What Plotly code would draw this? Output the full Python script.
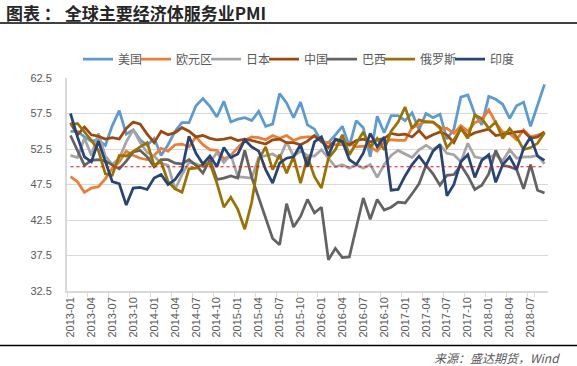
import plotly.graph_objects as go

months = [f"{y}-{m:02d}" for y in range(2013, 2019) for m in range(1, 13)][:69]

us = [55.0, 55.0, 54.2, 53.6, 53.8, 53.0, 55.8, 57.9, 54.6, 55.2, 53.8, 53.0,
      54.0, 51.6, 53.1, 55.0, 56.2, 56.2, 58.6, 59.6, 58.5, 57.0, 59.2, 56.3,
      56.7, 56.9, 56.5, 57.8, 55.7, 56.0, 60.3, 59.0, 56.9, 59.1, 55.9, 55.3,
      53.5, 53.4, 54.5, 55.7, 52.9, 56.5, 55.5, 51.4, 57.1, 54.8, 57.2, 57.2,
      56.5, 57.6, 55.2, 57.5, 56.9, 57.4, 53.9, 55.3, 59.8, 60.1, 57.4, 55.9,
      59.9, 59.5, 58.8, 56.8, 58.6, 59.1, 55.7, 58.5, 61.6]
euro = [48.6, 47.9, 46.4, 47.0, 47.2, 48.3, 49.8, 50.7, 52.2, 51.6, 51.2, 51.0,
        51.6, 52.6, 52.2, 53.1, 53.2, 52.8, 54.2, 53.1, 52.4, 52.3, 51.1, 51.6,
        52.7, 53.7, 54.2, 54.1, 53.8, 54.4, 54.0, 54.4, 53.7, 54.1, 54.2, 54.2,
        53.6, 53.3, 53.1, 53.1, 53.3, 52.8, 52.9, 52.8, 52.2, 53.5, 53.8, 53.7,
        53.7, 55.5, 56.0, 56.4, 56.3, 55.4, 55.4, 54.7, 55.8, 55.0, 56.2, 56.6,
        58.0, 56.2, 54.9, 54.7, 53.8, 55.2, 54.2, 54.4, 54.7]
japan = [51.6, 51.3, 54.0, 51.6, 54.7, 51.5, 50.3, 51.2, 53.5, 55.2, 53.4, 52.0,
         51.5, 50.5, 50.2, 46.8, 48.9, 50.6, 50.4, 50.0, 50.6, 52.0, 50.6, 51.7,
         48.6, 48.5, 48.4, 51.3, 51.5, 51.8, 51.2, 53.5, 51.5, 52.2, 51.6, 51.5,
         52.4, 51.2, 50.0, 50.3, 49.8, 50.3, 49.8, 50.3, 48.5, 50.3, 51.6, 52.3,
         51.8, 51.3, 52.4, 53.0, 52.4, 53.1, 51.9, 51.7, 50.7, 53.3, 51.4, 51.2,
         51.3, 51.7, 50.8, 52.4, 51.2, 51.4, 51.4, 51.6, 50.4]
china = [56.2, 54.5, 55.6, 54.5, 54.3, 53.9, 54.1, 53.9, 55.4, 56.3, 56.0, 54.6,
         53.4, 55.0, 54.5, 54.8, 55.5, 55.0, 54.2, 54.4, 54.0, 53.8, 53.9, 54.1,
         53.7, 53.9, 53.7, 53.4, 53.2, 53.8, 53.9, 53.4, 53.4, 53.1, 53.6, 54.4,
         53.5, 52.7, 53.8, 53.5, 53.1, 53.7, 53.9, 53.5, 53.7, 54.0, 54.7, 54.5,
         54.6, 54.2, 55.1, 54.0, 54.5, 54.9, 54.5, 53.4, 55.4, 54.3, 54.8, 55.0,
         55.3, 54.4, 54.6, 54.8, 54.9, 55.0, 54.0, 54.2, 54.9]
brazil = [54.4, 52.3, 50.2, 50.9, 51.0, 50.8, 50.2, 49.7, 50.8, 52.1, 52.3, 51.4,
          50.0, 51.0, 51.0, 50.5, 50.4, 51.0, 50.2, 49.1, 51.0, 48.2, 48.4, 48.7,
          48.4, 52.3, 48.5, 45.6, 42.9, 39.9, 39.0, 44.8, 41.5, 43.0, 45.4, 43.5,
          44.3, 36.9, 38.5, 37.2, 37.3, 41.4, 45.6, 42.6, 45.4, 43.9, 44.3, 45.0,
          44.9, 46.2, 47.6, 50.2, 49.0, 47.4, 48.8, 48.9, 50.2, 48.7, 46.8, 47.4,
          49.0, 52.3, 50.2, 50.0, 49.6, 46.9, 50.3, 46.7, 46.3]
russia = [55.9, 56.1, 54.9, 53.7, 52.3, 49.0, 48.8, 51.6, 51.5, 52.2, 52.8, 53.4,
          50.2, 50.7, 47.9, 46.9, 46.4, 49.7, 49.8, 50.3, 50.5, 47.7, 44.3, 45.7,
          44.0, 41.2, 45.0, 51.0, 52.8, 49.6, 51.7, 49.1, 51.4, 47.7, 51.4, 48.6,
          47.0, 51.2, 52.4, 54.5, 51.7, 53.3, 54.9, 52.8, 54.0, 52.4, 55.0, 56.3,
          58.4, 55.4, 56.6, 56.3, 56.3, 55.6, 52.7, 53.8, 55.4, 54.0, 57.3, 56.8,
          55.4, 56.3, 54.0, 55.4, 54.2, 52.4, 52.7, 53.3, 54.8]
india = [57.5, 54.2, 51.4, 50.7, 53.6, 50.9, 47.9, 47.6, 44.6, 47.0, 47.1, 46.8,
         48.4, 48.9, 47.5, 48.2, 49.6, 54.3, 51.9, 50.4, 51.5, 50.0, 52.7, 51.3,
         51.8, 53.8, 52.8, 52.2, 49.6, 47.7, 50.5, 51.2, 51.4, 53.1, 50.0, 53.5,
         54.2, 51.6, 53.9, 53.6, 51.0, 50.3, 51.9, 54.7, 52.8, 54.2, 46.7, 46.8,
         48.7, 50.3, 51.5, 50.2, 52.2, 53.1, 45.9, 47.5, 50.7, 51.7, 48.5, 50.9,
         51.7, 47.8, 50.3, 51.4, 49.6, 52.6, 54.2, 51.5, 50.9]
threshold = [50.0] * len(months)

names = ["美国", "欧元区", "日本", "中国", "巴西", "俄罗斯", "印度"]
series = [us, euro, japan, china, brazil, russia, india]
colors = ["#5B9BD5", "#ED7D31", "#A5A5A5", "#9E480E", "#636363", "#997300", "#264478"]

tick_months = months[::3]

fig = go.Figure()
for k, (n, s, c) in enumerate(zip(names, series, colors)):
    lw = 12 * len(n) - 11 if k < len(names) - 1 else 12 * len(n) + 4
    fig.add_trace(go.Scatter(x=months, y=s, name=n, mode="lines",
                             legendwidth=lw,
                             line=dict(color=c, width=2.75)))
fig.add_trace(go.Scatter(x=months, y=threshold, mode="lines", showlegend=False,
                         line=dict(color="#FF0000", width=1, dash="dot"),
                         hoverinfo="skip"))

font_main = "Liberation Sans, Noto Sans CJK SC, sans-serif"
fig.update_layout(
    width=577, height=366,
    margin=dict(l=67, r=29, t=78, b=75, autoexpand=False),
    paper_bgcolor="white", plot_bgcolor="white",
    font=dict(family=font_main, size=11, color="#595959"),
    showlegend=True,
    legend=dict(orientation="h", xref="container", yref="container",
                x=78 / 577, xanchor="left", y=1 - 59 / 366, yanchor="middle",
                font=dict(size=12, color="#595959", family="Noto Sans CJK SC"),
                itemwidth=30, tracegroupgap=0, bgcolor="rgba(0,0,0,0)",
                entrywidthmode="pixels"),
    xaxis=dict(type="category", range=[-0.5, len(months) - 0.5],
               tickmode="array", tickvals=tick_months, ticktext=tick_months,
               tickson="boundaries", ticks="outside", ticklen=4, tickcolor="#D9D9D9",
               tickangle=-90, showgrid=False, showline=True, linecolor="#D9D9D9",
               linewidth=1.5, tickfont=dict(size=11, color="#595959"), zeroline=False),
    yaxis=dict(range=[32.5, 62.5], tick0=32.5, dtick=5, tickformat=".1f",
               showgrid=True, gridcolor="#D9D9D9", gridwidth=1,
               showline=True, linecolor="#D9D9D9", linewidth=2,
               ticks="", ticklabelstandoff=11, zeroline=False,
               tickfont=dict(size=11, color="#595959")),
)

# decorative frame lines and texts
fig.add_shape(type="line", xref="paper", yref="paper", x0=-0.15, x1=1.07,
              y0=(291 - 23) / 213, y1=(291 - 23) / 213, line=dict(color="black", width=1.5))
fig.add_shape(type="line", xref="paper", yref="paper", x0=-0.15, x1=1.07,
              y0=(291 - 345.5) / 213, y1=(291 - 345.5) / 213, line=dict(color="black", width=1.5))
fig.add_annotation(text="<b>图表 ： 全球主要经济体服务业PMI</b>", xref="paper", yref="paper",
                   x=(4 - 67) / 481, xanchor="left", y=(291 - 12) / 213, yanchor="middle",
                   showarrow=False, font=dict(family="Noto Sans CJK SC", size=17, color="#262626"))
fig.add_annotation(text="<i>来源：盛达期货，Wind</i>", xref="paper", yref="paper",
                   x=(562 - 67) / 481, xanchor="right", y=(291 - 357) / 213, yanchor="middle",
                   showarrow=False, font=dict(family="Noto Sans CJK SC", size=12, color="#595959"))

fig.write_html("out.html", config={"displayModeBar": False},
               post_script="document.body.style.margin='0px';")
